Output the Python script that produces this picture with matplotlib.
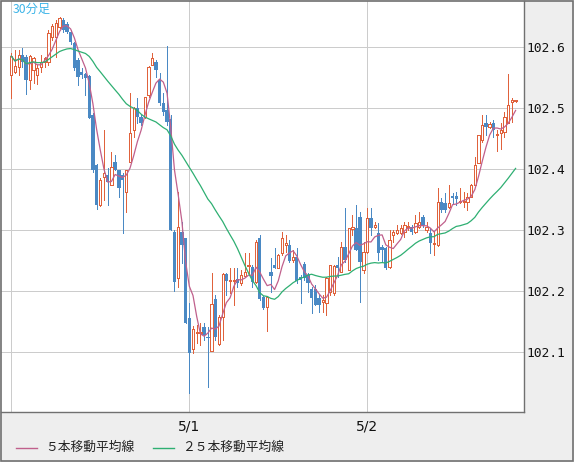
import matplotlib
matplotlib.use("Agg")
import matplotlib.pyplot as plt
from matplotlib.patches import Rectangle
from matplotlib.lines import Line2D
import numpy as np
import pandas as pd

# ---------------- data (USD/JPY 30-minute candles) ----------------
start_time = "2014-04-30 00:00"
opens = [
    102.554, 102.559, 102.567, 102.587, 102.584, 102.546, 102.562, 102.554, 102.567, 102.575,
    102.575, 102.616, 102.616, 102.633, 102.644, 102.638, 102.625, 102.607, 102.579, 102.559,
    102.556, 102.552, 102.488, 102.407, 102.341, 102.387, 102.390, 102.374, 102.411, 102.398,
    102.390, 102.362, 102.411, 102.464, 102.500, 102.485, 102.485, 102.521, 102.570, 102.575,
    102.546, 102.508, 102.497, 102.482, 102.297, 102.221, 102.297, 102.287, 102.156, 102.105,
    102.131, 102.131, 102.141, 102.125, 102.102, 102.187, 102.113, 102.157, 102.228, 102.216,
    102.216, 102.220, 102.213, 102.225, 102.241, 102.239, 102.215, 102.287, 102.190, 102.174,
    102.231, 102.243, 102.238, 102.262, 102.275, 102.275, 102.251, 102.256, 102.223, 102.244,
    102.226, 102.203, 102.203, 102.189, 102.182, 102.180, 102.198, 102.197, 102.243, 102.231,
    102.272, 102.234, 102.302, 102.303, 102.321, 102.234, 102.264, 102.320, 102.305, 102.295,
    102.272, 102.270, 102.239, 102.292, 102.295, 102.295, 102.297, 102.305, 102.305, 102.297,
    102.305, 102.321, 102.300, 102.295, 102.277, 102.275, 102.346, 102.344, 102.338, 102.356,
    102.356, 102.346, 102.346, 102.346, 102.354, 102.374, 102.410, 102.448, 102.475, 102.469,
    102.475, 102.456, 102.459, 102.461, 102.475, 102.510, 102.511,
]
highs = [
    102.590, 102.595, 102.595, 102.598, 102.587, 102.587, 102.584, 102.570, 102.587, 102.584,
    102.628, 102.638, 102.644, 102.649, 102.648, 102.641, 102.628, 102.608, 102.582, 102.566,
    102.557, 102.554, 102.492, 102.408, 102.385, 102.464, 102.402, 102.428, 102.423, 102.398,
    102.393, 102.398, 102.525, 102.502, 102.516, 102.488, 102.518, 102.569, 102.590, 102.579,
    102.557, 102.525, 102.602, 102.488, 102.300, 102.362, 102.313, 102.287, 102.180, 102.143,
    102.144, 102.147, 102.147, 102.141, 102.230, 102.193, 102.161, 102.230, 102.230, 102.238,
    102.238, 102.238, 102.234, 102.262, 102.262, 102.243, 102.284, 102.292, 102.192, 102.192,
    102.254, 102.270, 102.261, 102.297, 102.292, 102.284, 102.267, 102.270, 102.226, 102.248,
    102.230, 102.207, 102.210, 102.193, 102.193, 102.223, 102.243, 102.243, 102.256, 102.280,
    102.336, 102.303, 102.325, 102.341, 102.330, 102.280, 102.336, 102.336, 102.313, 102.311,
    102.275, 102.272, 102.300, 102.300, 102.308, 102.308, 102.313, 102.313, 102.308, 102.325,
    102.330, 102.325, 102.313, 102.303, 102.297, 102.369, 102.352, 102.361, 102.374, 102.361,
    102.362, 102.369, 102.362, 102.361, 102.375, 102.420, 102.456, 102.488, 102.488, 102.477,
    102.480, 102.464, 102.475, 102.493, 102.556, 102.516, 102.513,
]
lows = [
    102.516, 102.557, 102.554, 102.567, 102.523, 102.531, 102.541, 102.539, 102.559, 102.567,
    102.570, 102.611, 102.584, 102.631, 102.625, 102.623, 102.605, 102.562, 102.538, 102.549,
    102.521, 102.484, 102.395, 102.334, 102.339, 102.349, 102.341, 102.374, 102.398, 102.354,
    102.295, 102.330, 102.411, 102.452, 102.475, 102.472, 102.484, 102.518, 102.570, 102.551,
    102.505, 102.488, 102.472, 102.300, 102.200, 102.207, 102.246, 102.147, 102.033, 102.098,
    102.115, 102.111, 102.120, 102.043, 102.102, 102.120, 102.111, 102.120, 102.193, 102.197,
    102.177, 102.207, 102.210, 102.223, 102.230, 102.207, 102.213, 102.185, 102.170, 102.134,
    102.198, 102.238, 102.238, 102.259, 102.264, 102.248, 102.248, 102.213, 102.180, 102.218,
    102.198, 102.164, 102.177, 102.166, 102.166, 102.161, 102.193, 102.193, 102.223, 102.231,
    102.248, 102.234, 102.292, 102.267, 102.182, 102.230, 102.262, 102.292, 102.303, 102.251,
    102.248, 102.236, 102.238, 102.280, 102.293, 102.293, 102.289, 102.300, 102.293, 102.295,
    102.303, 102.305, 102.297, 102.262, 102.259, 102.274, 102.330, 102.330, 102.336, 102.344,
    102.341, 102.344, 102.338, 102.333, 102.354, 102.374, 102.410, 102.444, 102.456, 102.467,
    102.452, 102.429, 102.433, 102.452, 102.475, 102.477, 102.510,
]
closes = [
    102.585, 102.569, 102.587, 102.575, 102.546, 102.585, 102.582, 102.566, 102.575, 102.582,
    102.623, 102.634, 102.639, 102.648, 102.628, 102.625, 102.608, 102.566, 102.551, 102.554,
    102.549, 102.484, 102.398, 102.341, 102.382, 102.393, 102.379, 102.403, 102.398, 102.369,
    102.382, 102.398, 102.459, 102.500, 102.485, 102.475, 102.518, 102.567, 102.582, 102.562,
    102.508, 102.493, 102.477, 102.300, 102.215, 102.305, 102.275, 102.147, 102.098, 102.138,
    102.133, 102.133, 102.128, 102.123, 102.179, 102.125, 102.157, 102.228, 102.216, 102.218,
    102.218, 102.213, 102.226, 102.231, 102.243, 102.215, 102.280, 102.187, 102.172, 102.190,
    102.225, 102.238, 102.259, 102.287, 102.279, 102.249, 102.256, 102.216, 102.218, 102.221,
    102.213, 102.189, 102.177, 102.177, 102.185, 102.221, 102.243, 102.241, 102.238, 102.272,
    102.251, 102.303, 102.305, 102.267, 102.248, 102.264, 102.320, 102.303, 102.308, 102.262,
    102.267, 102.238, 102.284, 102.297, 102.300, 102.303, 102.308, 102.307, 102.297, 102.311,
    102.313, 102.308, 102.305, 102.279, 102.279, 102.346, 102.333, 102.333, 102.344, 102.352,
    102.351, 102.348, 102.348, 102.354, 102.374, 102.407, 102.456, 102.472, 102.469, 102.474,
    102.464, 102.457, 102.464, 102.485, 102.505, 102.513, 102.513,
]
y_ticks = [102.1, 102.2, 102.3, 102.4, 102.5, 102.6]
title_text = "30分足"
legend_labels = ["５本移動平均線", "２５本移動平均線"]
ma_periods = [5, 25]

# ---------------- styling ----------------
W, H = 574, 462
UP = "#E0623C"
DN = "#4A89C4"
MA_COLORS = ["#C0608C", "#2EAF72"]
GRID = "#CCCCCC"
FRAME = "#707070"
PANEL = "#EEEEEE"
PX = 0.72  # one pixel in points at dpi=100

O = np.array(opens); Hh = np.array(highs); L = np.array(lows); C = np.array(closes)
n = len(C)
x = np.arange(n)
times = pd.date_range(start_time, periods=n, freq="30min")

fig = plt.figure(figsize=(W / 100, H / 100), dpi=100, facecolor=PANEL)
ax = fig.add_axes([1 / W, 50.5 / H, 522.5 / W, 410.5 / H])
ax.set_facecolor("white")

# candles
up = C >= O
dn = ~up
wcolors = [UP if u else DN for u in up]
ax.vlines(x, L, Hh, colors=wcolors, lw=PX, zorder=2, antialiased=False)
ax.bar(x[dn], (O - C)[dn], bottom=C[dn], width=0.9, color=DN, lw=0,
       zorder=3, antialiased=False)
ax.bar(x[up], (C - O)[up], bottom=O[up], width=0.62, facecolor="white",
       edgecolor=UP, lw=PX, zorder=3, antialiased=False)

# moving averages
s = pd.Series(C)
for per, col in zip(ma_periods, MA_COLORS):
    ma = s.rolling(per, min_periods=1).mean()
    ax.plot(x, ma, color=col, lw=0.9, zorder=4)

# axes limits
ax.set_xlim(-2.78, 138.13)
ax.set_ylim(102.0025, 102.6754)

# grid and ticks
day_idx = [i for i, t in enumerate(times) if t.hour == 0 and t.minute == 0]
day_lab = ["" if k == 0 else f"{times[i].month}/{times[i].day}" for k, i in enumerate(day_idx)]
ax.set_xticks(day_idx, day_lab)
ax.set_yticks(y_ticks, [f"{v:.1f}" for v in y_ticks])
ax.grid(True, color=GRID, lw=PX, zorder=0)
ax.set_axisbelow(True)
ax.yaxis.tick_right()
ax.tick_params(axis="y", length=0, pad=2.3, labelsize=9.3, labelcolor="#111111",
               labelfontfamily="DejaVu Sans Mono")
ax.tick_params(axis="x", length=0, pad=6.0, labelsize=10, labelcolor="#111111")

for side in ["left", "top"]:
    ax.spines[side].set_visible(False)
for side in ["right", "bottom"]:
    ax.spines[side].set_color(FRAME)
    ax.spines[side].set_linewidth(1.0)

# outer frame
fig.add_artist(Rectangle((0.5 / W, 0.7 / H), (W - 1.6) / W, (H - 1.4) / H,
                         transform=fig.transFigure, fill=False,
                         edgecolor=FRAME, lw=1.2))

def fx(px):
    return px / W

def fy(py):
    return 1 - py / H

# title
fig.text(fx(13), fy(9.5), title_text, color="#3CB4E8", fontsize=8.8,
         family=["Noto Sans CJK JP", "DejaVu Sans"], va="center", ha="left")

# legend
leg_pos = [(16, 37, 45), (153, 174, 182)]
for (x0, x1, xt), lab, col in zip(leg_pos, legend_labels, MA_COLORS):
    fig.add_artist(Line2D([fx(x0), fx(x1)], [fy(447.5), fy(447.5)],
                          transform=fig.transFigure, color=col, lw=1.0))
    fig.text(fx(xt), fy(447.5), lab, color="#222222", fontsize=9.2,
             family=["Noto Sans CJK JP", "DejaVu Sans"], va="center", ha="left")

fig.savefig("out.png", dpi=100, facecolor=PANEL)
